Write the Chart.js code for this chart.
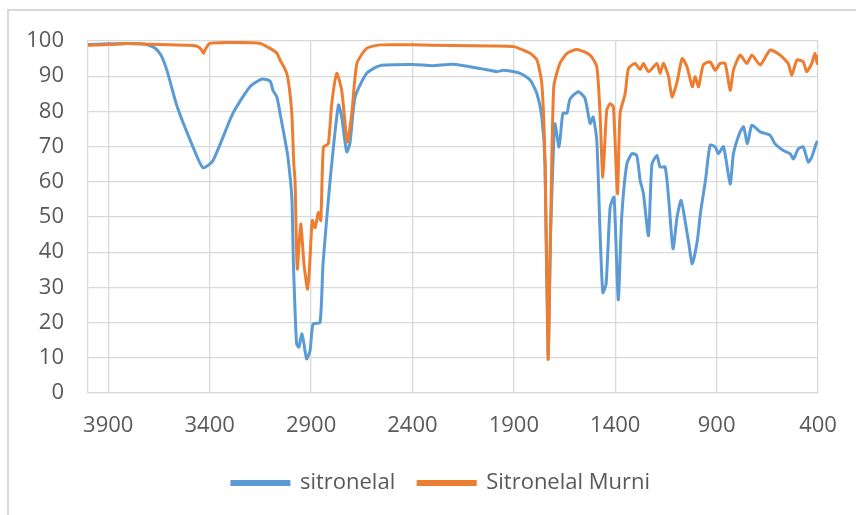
<!DOCTYPE html>
<html>
<head>
<meta charset="utf-8">
<script src="https://cdn.jsdelivr.net/npm/chart.js@4/dist/chart.umd.min.js"></script>
<style>
  html, body { margin: 0; padding: 0; background: #fff; overflow: hidden; }
  #frame { position: absolute; left: 7px; top: 9px; width: 900px; height: 600px;
           border-left: 2px solid #d9d9d9; border-top: 2px solid #d9d9d9; }
  #wrap { position: absolute; left: 0; top: 0; width: 856px; height: 515px; }
</style>
</head>
<body>
<div id="frame"></div>
<div id="wrap"><canvas id="c" width="856" height="515"></canvas></div>
<script>
// wavenumber (cm-1) and transmittance (%)
const sitronelalX = [4000, 3900, 3800, 3740, 3700, 3670, 3640, 3610, 3560, 3490, 3433, 3384, 3285, 3201, 3142,
  3102, 3088, 3068, 3053, 3028, 3014, 2995, 2987, 2978, 2971, 2960, 2946, 2935, 2922, 2905, 2890, 2856, 2841,
  2806, 2765, 2749, 2724, 2708, 2683, 2626, 2560, 2400, 2300, 2200, 2067, 1983, 1950, 1869, 1820, 1786, 1762,
  1746, 1731, 1719, 1703, 1697, 1677, 1663, 1657, 1638, 1623, 1582, 1549, 1524, 1509, 1491, 1475, 1461,
  1445, 1425, 1406, 1385, 1368, 1343, 1318, 1294, 1277, 1261, 1236, 1219, 1194, 1179, 1154, 1137, 1115, 1095,
  1075, 1053, 1037, 1020, 995, 980, 955, 932, 907, 891, 866, 833, 817, 784, 767, 748, 726, 685, 636, 612, 571,
  538, 521, 497, 473, 448, 431, 406, 400]
const sitronelalY = [99, 99.2, 99.3, 99.2, 98.8, 98, 96, 91.5, 81.3, 71, 64, 66, 79.5, 87, 89.2,
  88.6, 86, 84, 79.5, 71.8, 67, 55.6, 36.7, 22, 14, 13, 16.8, 14, 9.7, 12, 19.6, 20, 36.7,
  60.4, 81.8, 78.4, 68.5, 71, 84, 90.8, 93, 93.3, 93, 93.4, 92.2, 91.3, 91.7, 90.8, 88.9, 85, 78.4,
  65, 11, 45, 72, 76.5, 69.9, 77.5, 79.5, 79.5, 83.5, 85.6, 83.7, 76.6, 78.4, 71.8, 46, 28.5,
  31, 52.8, 55.6, 26.5, 50, 65, 68, 67.5, 60.4, 56.7, 44.7, 65, 67.5, 64.2, 64.2, 55.6, 41, 50,
  54.7, 48.1, 42.4, 36.7, 43.3, 51, 60.4, 70.4, 69.9, 68, 70, 59.4, 68, 74.2, 75.6, 70.8, 76.1, 74.2, 73.2, 70.8, 68.9,
  68, 66.5, 69.4, 69.9, 65.6, 67, 71.3, 71]

const murniX = [4000, 3900, 3800, 3700, 3600, 3500, 3460, 3440, 3430, 3420, 3400, 3300, 3200, 3150, 3102,
  3068, 3053, 3035, 3020, 3010, 2995, 2985, 2979, 2975, 2968, 2951, 2935, 2917, 2905, 2894, 2880, 2864, 2852,
  2839, 2815, 2798, 2773, 2749, 2721, 2699, 2674, 2626, 2560, 2400, 2200, 2000, 1900, 1820, 1786, 1762, 1746,
  1731, 1719, 1703, 1673, 1638, 1588, 1524, 1491, 1475, 1461, 1442, 1425, 1409, 1389, 1376, 1351, 1335, 1302,
  1277, 1261, 1236, 1194, 1179, 1162, 1137, 1120, 1095, 1070, 1046, 1020, 1006, 989, 966, 932, 907, 883, 858,
  833, 817, 784, 751, 726, 685, 636, 587, 547, 529, 504, 473, 456, 431, 415, 404, 400]
const murniY = [98.8, 99, 99.3, 99.1, 98.9, 98.8, 98.5, 97.5, 96.5, 97.8, 99.3, 99.6, 99.5, 99.3, 97.9,
  96.5, 94.6, 92.7, 90.8, 87.9, 79.5, 65, 60.4, 50, 35.2, 48, 36.7, 29.5, 38.5, 49, 47, 51.3, 49,
  69.9, 70.8, 82.2, 90.8, 86, 71.3, 79.5, 93.6, 97.9, 98.9, 98.9, 98.7, 98.6, 98.4, 96.5, 94.6, 87.9, 65,
  9.6, 46, 87, 93.6, 96.5, 97.6, 96, 92.7, 79.5, 61.3, 80.3, 82.2, 81.3, 56.6, 79.5, 85, 92.2, 93.6,
  91.9, 93.6, 91.3, 93.6, 90.8, 93.6, 89.9, 84.1, 88.4, 95, 92.7, 87, 89.9, 87, 93.2, 94.1, 91.7, 93.6, 93.6,
  86, 91.7, 96, 93.6, 96, 93.2, 97.4, 96, 93.6, 90.3, 94.6, 94.1, 91.3, 93.6, 96.5, 93.6, 96]

const xTicks = [400, 900, 1400, 1900, 2400, 2900, 3400, 3900]
const seriesNames = ['sitronelal', 'Sitronelal Murni']

const toPoints = (xs, ys) => xs.map((x, i) => ({ x: x, y: ys[i] }))

const font = { family: "'Open Sans', sans-serif", size: 22 }
const textColor = '#595959'
const gridColor = '#d9d9d9'

// legend is centred under the whole frame, not just the plot
const legendShift = {
  id: 'legendShift',
  afterLayout(chart) {
    chart.legend.left += 32
    chart.legend.right += 32
  }
}

new Chart(document.getElementById('c'), {
  type: 'line',
  data: {
    datasets: [
      {
        label: seriesNames[0], data: toPoints(sitronelalX, sitronelalY),
        borderColor: '#5b9bd5', backgroundColor: '#5b9bd5', borderWidth: 3,
        pointRadius: 0, tension: 0.2, order: 1
      },
      {
        label: seriesNames[1], data: toPoints(murniX, murniY),
        borderColor: '#ed7d31', backgroundColor: '#ed7d31', borderWidth: 3,
        pointRadius: 0, tension: 0.2, order: 0
      }
    ]
  },
  plugins: [legendShift],
  options: {
    responsive: false,
    animation: false,
    layout: { padding: { left: 0, right: 38, top: 41, bottom: 11 } },
    plugins: {
      tooltip: { enabled: false },
      legend: {
        position: 'bottom',
        labels: {
          boxWidth: 57, boxHeight: 3, padding: 23, color: textColor, font: font,
          sort: (a, b) => a.datasetIndex - b.datasetIndex
        }
      }
    },
    scales: {
      x: {
        type: 'linear', min: 400, max: 4000, reverse: true,
        afterBuildTicks: (s) => { s.ticks = xTicks.map(v => ({ value: v })) },
        afterFit: (s) => { s.height = 56 },
        grid: { color: gridColor, lineWidth: 1.3, drawTicks: false },
        border: { color: gridColor, width: 1.3 },
        ticks: { color: textColor, font: font, padding: 20, maxRotation: 0, callback: (v) => String(v) }
      },
      y: {
        min: 0, max: 100,
        afterFit: (s) => { s.width = 88 },
        grid: { color: gridColor, lineWidth: 1.3, drawTicks: false },
        border: { color: gridColor, width: 1.3 },
        ticks: { stepSize: 10, color: textColor, font: font, padding: 24 }
      }
    }
  }
})
</script>
</body>
</html>
